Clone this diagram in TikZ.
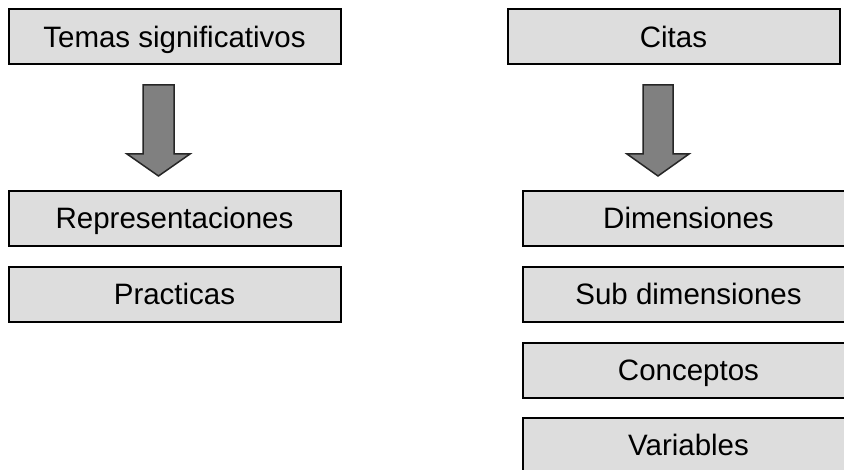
\documentclass[tikz,border=0pt]{standalone}
\usepackage{fontspec}
\setmainfont{Liberation Sans}
\usetikzlibrary{calc}
\definecolor{boxgray}{HTML}{DDDDDD}
\definecolor{arrowgray}{HTML}{808080}

\begin{document}
\begin{tikzpicture}[x=1pt, y=-1pt,
  box/.style={draw=black, line width=2pt, fill=boxgray, minimum width=332pt,
    minimum height=55pt, inner sep=0pt, text height=21pt, text depth=0pt,
    font=\fontsize{29.5}{32}\selectfont},
  bigarrow/.style={draw=black!85, line width=1.5pt, fill=arrowgray, line join=miter}]

\useasboundingbox (0,0) rectangle (844,470);

% Left column
\node[box] (temas) at (174.5,37) {Temas significativos};
\node[box] (repr) at (174.5,218.5) {Representaciones};
\node[box] (pract) at (174.5,294.5) {Practicas};

% Right column
\node[box] (citas) at (673.5,37) {Citas};
\node[box] (dimen) at (688.5,218.5) {Dimensiones};
\node[box] (subdim) at (688.5,294.5) {Sub dimensiones};
\node[box] (concep) at (688.5,370.5) {Conceptos};
\node[box] (variab) at (688.5,445.5) {Variables};

% Block arrows
\coordinate (arrL) at (158.5,85);
\coordinate (arrR) at (658,85);
\draw[bigarrow] (arrL) ++(-15.5,0) -- ++(31,0) -- ++(0,69) -- ++(16,0)
  -- ++(-31.5,22) -- ++(-31.5,-22) -- ++(16,0) -- cycle;
\draw[bigarrow] (arrR) ++(-15,0) -- ++(30,0) -- ++(0,69) -- ++(16,0)
  -- ++(-31,22) -- ++(-31,-22) -- ++(16,0) -- cycle;

\end{tikzpicture}
\end{document}
